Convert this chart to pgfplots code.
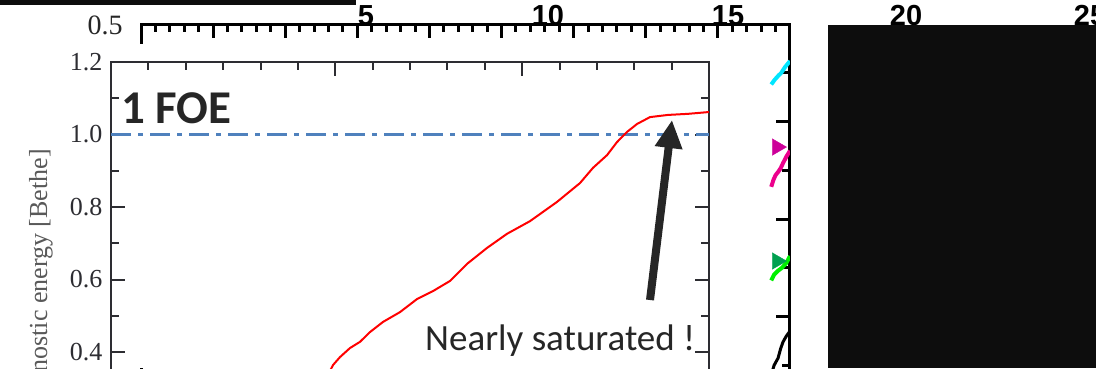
\documentclass[border=0pt]{standalone}
\usepackage{fontspec}
\setmainfont{Liberation Serif}
\newfontfamily\calibri{Carlito}
\newfontfamily\helv{Liberation Sans}
\usepackage{pgfplots}
\pgfplotsset{compat=1.18}
\usetikzlibrary{arrows.meta}
\definecolor{foeblue}{RGB}{79,129,189}
\definecolor{annot}{RGB}{38,38,38}
\definecolor{tickgray}{RGB}{45,45,50}
\definecolor{blackbox}{RGB}{13,13,13}
\definecolor{magtri}{RGB}{204,0,153}
\definecolor{grntri}{RGB}{0,160,80}
\definecolor{cyanline}{RGB}{0,230,255}
\definecolor{greenline}{RGB}{0,240,0}
\begin{document}
\begin{tikzpicture}[x=1pt,y=1pt]
\useasboundingbox (0,0) rectangle (1096,368);
\clip (0,0) rectangle (1096,368);
\fill[white] (0,0) rectangle (1096,368);

% background panel axis
\begin{axis}[at={(141pt,344pt)}, anchor=north west, scale only axis,
  width=649pt, height=390pt,
  xmin=0, xmax=9, ymin=-1, ymax=3,
  xtick={0,...,9}, minor x tick num=4,
  ytick={-1,0,1,2,3}, minor y tick num=1,
  xticklabels={}, yticklabels={},
  axis line style={line width=3pt, black},
  every tick/.style={line width=3pt, black},
  major tick length=14pt, minor tick length=8pt]
\addplot[cyanline, line width=4pt] coordinates {(8.74,2.38) (8.79,2.43) (8.835,2.467) (8.88,2.50) (8.932,2.559) (9.0,2.62)};
\addplot[magenta, line width=4pt] coordinates {(8.74,1.33) (8.77,1.40) (8.80,1.45) (8.835,1.482) (8.87,1.52) (8.904,1.574) (8.95,1.64) (9.0,1.70)};
\addplot[greenline, line width=4pt] coordinates {(8.74,0.37) (8.78,0.43) (8.835,0.47) (8.89,0.50) (8.95,0.55) (9.0,0.62)};
\addplot[black, line width=3pt] coordinates {(8.74,-0.60) (8.78,-0.50) (8.835,-0.426) (8.87,-0.33) (8.904,-0.26) (8.95,-0.20) (9.0,-0.15)};
\addplot[magtri, only marks, mark=triangle*, mark size=9.5pt, mark options={rotate=-90, magtri}] coordinates {(8.82,1.738)};
\addplot[grntri, only marks, mark=triangle*, mark size=9.5pt, mark options={rotate=-90, grntri}] coordinates {(8.82,0.569)};
\end{axis}

\foreach \v/\x in {5/366,10/548,15/728,20/906,25/1090}
  \node[anchor=base, inner sep=0, font=\helv\bfseries\fontsize{29}{29}\selectfont] at (\x,343) {\v};

\node[font=\fontsize{28}{28}\selectfont, text=annot, inner sep=0] at (105,343) {0.5};

% white foreground panel
\fill[white] (0,0) rectangle (765,324);

% main axis
\begin{axis}[at={(111pt,306pt)}, anchor=north west, scale only axis,
  width=598pt, height=362.5pt,
  xmin=0, xmax=16, ymin=0.2, ymax=1.2,
  xtick={6,11}, minor xtick={1,2,3,4,5,7,8,9,10,12,13,14,15},
  ytick={0.2,0.4,0.6,0.8,1.0,1.2}, minor ytick={0.3,0.5,0.7,0.9,1.1},
  xticklabels={},
  /pgf/number format/assume math mode=true,
  yticklabel style={/pgf/number format/fixed, /pgf/number format/fixed zerofill,
    /pgf/number format/precision=1, font=\fontsize{26}{26}\selectfont, text=tickgray, xshift=-5pt},
  axis line style={line width=2pt, tickgray},
  every tick/.style={line width=2pt, tickgray},
  major tick length=14pt, minor tick length=8pt]
\addplot[foeblue, line width=2.5pt, dash pattern=on 20pt off 7pt on 5pt off 7pt] coordinates {(0,1) (16,1)};
\addplot[red, line width=2pt] coordinates {(5.806,0.337) (5.94,0.364) (6.127,0.386) (6.395,0.411) (6.662,0.428) (6.93,0.455) (7.278,0.483) (7.732,0.51) (8.187,0.546) (8.615,0.568) (9.07,0.596) (9.525,0.643) (10.06,0.687) (10.595,0.726) (11.211,0.761) (11.933,0.814) (12.548,0.866) (12.896,0.908) (13.271,0.943) (13.538,0.979) (13.806,1.007) (14.074,1.029) (14.421,1.048) (14.903,1.054) (15.438,1.057) (16.0,1.062)};
\end{axis}

\node[rotate=90, anchor=base east, inner sep=0, font=\fontsize{26}{26}\selectfont, text=black!65] at (47,219) {Diagnostic energy [Bethe]};

\node[anchor=base west, inner sep=0, font=\calibri\bfseries\fontsize{47}{47}\selectfont, text=annot] at (121,245) {1 FOE};
\node[anchor=base west, inner sep=0, font=\calibri\fontsize{37}{37}\selectfont, text=annot] at (425,18) {Nearly saturated !};
\draw[annot, line width=8pt, -{Triangle[length=28pt, width=26pt]}] (650,68) -- (672,248);

\fill[blackbox] (828,0) rectangle (1096,343);
\fill[blackbox] (0,363) rectangle (356,368);
\end{tikzpicture}
\end{document}
